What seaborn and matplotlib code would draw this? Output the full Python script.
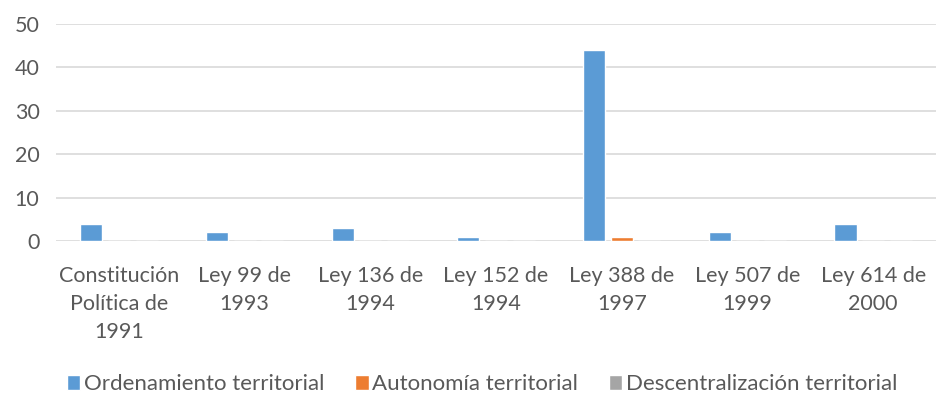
import pandas as pd
import matplotlib
matplotlib.use("Agg")
import matplotlib.pyplot as plt
import seaborn as sns

categories = ["Constitución\nPolítica de\n1991", "Ley 99 de\n1993", "Ley 136 de\n1994",
              "Ley 152 de\n1994", "Ley 388 de\n1997", "Ley 507 de\n1999", "Ley 614 de\n2000"]
series = ["Ordenamiento territorial", "Autonomía territorial", "Descentralización territorial"]
ordenamiento = [4, 2, 3, 1, 44, 2, 4]
autonomia = [0, 0, 0, 0, 1, 0, 0]
descentralizacion = [0, 0, 0, 0, 0, 0, 0]
colors = ["#5B9BD5", "#ED7D31", "#A5A5A5"]

df = pd.DataFrame({
    "Norma": categories * 3,
    "Serie": [series[0]] * 7 + [series[1]] * 7 + [series[2]] * 7,
    "Valor": ordenamiento + autonomia + descentralizacion,
})

sns.set_style("white")
plt.rcParams["font.family"] = ["Lato", "DejaVu Sans"]

fig = plt.figure(figsize=(9.36, 4.11), dpi=100)
ax = fig.add_axes([0.06, 0.4136, 0.94, 0.528])

sns.barplot(data=df, x="Norma", y="Valor", hue="Serie", palette=colors,
            saturation=1, width=0.66, gap=0.2, ax=ax, legend=True)

ax.set_ylim(0, 50)
ax.set_yticks(range(0, 51, 10))
ax.yaxis.grid(True, color="#D9D9D9", linewidth=1.2)
ax.set_axisbelow(True)
for s in ax.spines.values():
    s.set_visible(False)
ax.set_xlabel("")
ax.set_ylabel("")
ax.tick_params(axis="both", length=0, labelsize=15.5, labelcolor="#595959")
ax.tick_params(axis="y", pad=12)
ax.tick_params(axis="x", pad=18)
for lbl in ax.get_xticklabels():
    lbl.set_linespacing(1.5)

handles, labels = ax.get_legend_handles_labels()
ax.legend_.remove()
fig.legend(handles, labels, loc="center", bbox_to_anchor=(0.515, 0.065), ncol=3,
           frameon=False, fontsize=16, labelcolor="#595959", handlelength=0.6,
           handleheight=0.6, handletextpad=0.15, columnspacing=1.4)

fig.savefig("out.png", dpi=100)
